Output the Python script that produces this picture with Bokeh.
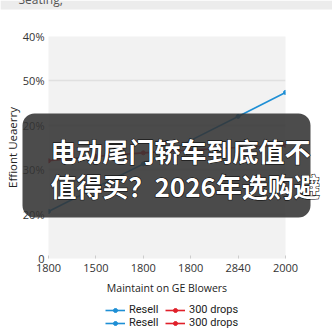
from bokeh.plotting import figure
from bokeh.models import (BoxAnnotation, Legend, LegendItem, FixedTicker,
                          Range1d, GridBox)
from bokeh.core.properties import value
from bokeh.embed import file_html
from bokeh.resources import INLINE

# ---- data ----
x_pos = [0, 1, 2, 3, 4, 5]
x_labels = ["1800", "1500", "1800", "1800", "2840", "2000"]
y_pos = [0, 1, 2, 3, 4, 5]
y_labels = ["0", "20%", "30%", "20%", "50%", "40%"]
resell = [1.06, 1.6, 2.13, 2.66, 3.2, 3.74]
drops = [2.2, 2.3, 2.38, 2.44, 2.5, 2.55]
series_names = ["Resell", "300 drops"]
x_title = "Maintaint on GE Blowers"
y_title = "Effiont Ueaerry"
top_text = ["Seating,"]
overlay_lines = ["电动尾门轿车到底值不", "值得买？2026年选购避"]

BLUE = "#1e8fd5"
RED = "#e0202a"
FONT = "Open Sans"
W = H = 332
NAN = float("nan")

# ---- main chart ----
p = figure(width=W, height=H, output_backend="svg", toolbar_location=None,
           x_range=Range1d(0, 5), y_range=Range1d(0, 5),
           min_border_left=48, min_border_right=47,
           min_border_top=36, min_border_bottom=74)
if "frame_align" in p.properties():
    p.frame_align = False
p.background_fill_color = "#f2f2f2"
p.border_fill_color = "white"
p.outline_line_color = None

p.xaxis.ticker = FixedTicker(ticks=x_pos)
p.xaxis.major_label_overrides = {i: t for i, t in zip(x_pos, x_labels)}
p.yaxis.ticker = FixedTicker(ticks=y_pos)
p.yaxis.major_label_overrides = {i: t for i, t in zip(y_pos, y_labels)}
for ax in (p.xaxis, p.yaxis):
    ax.axis_line_color = None
    ax.minor_tick_line_color = None
    ax.minor_tick_in = 0
    ax.minor_tick_out = 0
    ax.major_label_text_font = FONT
    ax.major_label_text_font_size = "11px"
    ax.major_label_text_color = "#333333"
    ax.axis_label_text_font = FONT
    ax.axis_label_text_font_style = "normal"
    ax.axis_label_text_color = "#222222"
p.xaxis.axis_label_text_font_size = "10.5px"
p.yaxis.axis_label_text_font_size = "11.5px"
p.xaxis.major_tick_line_color = "#cccccc"
p.xaxis.major_tick_in = 3
p.xaxis.major_tick_out = 0
p.xaxis.major_label_standoff = 5
p.yaxis.major_tick_line_color = None
p.yaxis.major_tick_in = 0
p.yaxis.major_tick_out = 0
p.yaxis.major_label_standoff = 4
p.xaxis.axis_label = x_title
p.yaxis.axis_label = y_title
p.xaxis.axis_label_standoff = 6
p.yaxis.axis_label_standoff = 0
p.xgrid.grid_line_color = None
p.ygrid.grid_line_color = "#e0e0e0"
p.ygrid.grid_line_width = 1.5

p.line(x_pos, resell, line_color=BLUE, line_width=1.6)
p.scatter(x_pos, resell, size=4, color=BLUE)
p.line(x_pos, drops, line_color=RED, line_width=1.6)
p.scatter(x_pos, drops, size=4, color=RED)

# ---- overlay layer (canvas pixel coordinates) ----
q = figure(width=W, height=H, output_backend="svg", toolbar_location=None,
           x_range=Range1d(0, W), y_range=Range1d(H, 0),
           x_axis_location=None, y_axis_location=None,
           min_border=0)
if "frame_align" in q.properties():
    q.frame_align = False
q.grid.visible = False
q.outline_line_color = None
q.background_fill_alpha = 0
q.border_fill_alpha = 0

# legend swatches (styled like the series, no visible data)
lb = q.line([NAN], [NAN], line_color=BLUE, line_width=1.6)
sb = q.scatter([NAN], [NAN], size=4, color=BLUE)
lr = q.line([NAN], [NAN], line_color=RED, line_width=1.6)
sr = q.scatter([NAN], [NAN], size=4, color=RED)
legend = Legend(items=[
    LegendItem(label=series_names[0], renderers=[lb, sb]),
    LegendItem(label=series_names[1], renderers=[lr, sr]),
    LegendItem(label=series_names[0], renderers=[lb, sb]),
    LegendItem(label=series_names[1], renderers=[lr, sr]),
], orientation="horizontal", ncols=2, location=(105, 3),
    background_fill_alpha=0, border_line_color=None,
    label_text_font="Roboto", label_text_font_size="11px",
    label_text_line_height=1.0,
    label_text_color="#222222", glyph_width=20, glyph_height=10,
    spacing=0, padding=0, margin=0, label_standoff=4, label_height=10,
    label_width=36)
q.add_layout(legend, "center")

# top gray strip with cut-off caption
q.add_layout(BoxAnnotation(left=0, right=W, top=0, bottom=9,
                           fill_color="#ececec", fill_alpha=1, line_color=None))
q.text(x=[18], y=[-1], text=top_text, text_font=value(FONT),
       text_font_size="12px", text_color="#555555", text_baseline="alphabetic",
       level="overlay")

# dark banner
q.add_layout(BoxAnnotation(left=22, right=310, top=113, bottom=217,
                           fill_color="#333333", fill_alpha=0.88,
                           line_color=None, border_radius=12))
q.text(x=[50, 50], y=[150, 185], text=overlay_lines,
       text_font=value("Noto Sans CJK SC"), text_font_size="26px",
       text_font_style="bold", text_color="black", text_baseline="middle",
       text_outline_color="black", level="overlay")
q.text(x=[50, 50], y=[150, 185], text=overlay_lines,
       text_font=value("Noto Sans CJK SC"), text_font_size="26px",
       text_font_style="bold", text_color="white", text_baseline="middle",
       level="overlay")

layout = GridBox(children=[(p, 0, 0), (q, 0, 0)])

open("out.html", "w").write(file_html(layout, INLINE))
